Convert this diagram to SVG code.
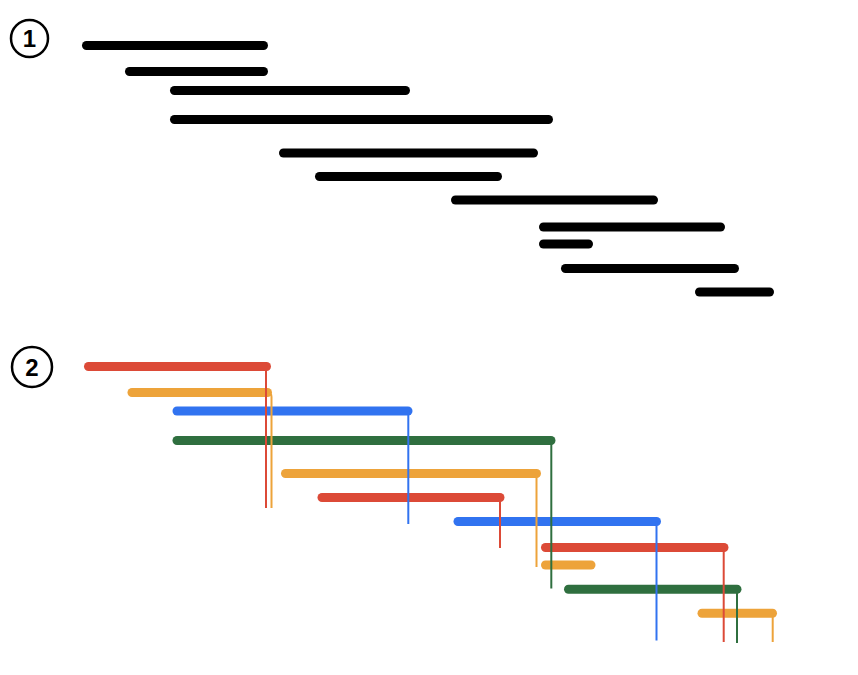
<svg xmlns="http://www.w3.org/2000/svg" width="858" height="675" viewBox="0 0 858 675">
<style>
.bar{stroke-width:9;stroke-linecap:round;fill:none}
.k{stroke:#000}
.r{stroke:#DC4A37}
.o{stroke:#EDA33A}
.b{stroke:#3173F0}
.g{stroke:#2F6F3F}
.v{stroke-width:2;fill:none}
.badge{fill:none;stroke:#000;stroke-width:2.5}
.num{font-family:"Liberation Sans",Arial,sans-serif;font-size:24px;font-weight:bold;fill:#000;text-anchor:middle}
</style>
<rect width="858" height="675" fill="#fff"/>
<g id="label1"><circle class="badge" cx="29.5" cy="38.5" r="18.5"/><text class="num" x="29.5" y="47">1</text></g>
<g id="label2"><circle class="badge" cx="32" cy="367" r="20"/><text class="num" x="32" y="375.5">2</text></g>
<g id="chart1">
<g id="k1"><line class="bar k" x1="86.5" y1="45.5" x2="263.5" y2="45.5"/></g>
<g id="k2"><line class="bar k" x1="129.5" y1="71.5" x2="263.5" y2="71.5"/></g>
<g id="k3"><line class="bar k" x1="174.5" y1="90.5" x2="405.5" y2="90.5"/></g>
<g id="k4"><line class="bar k" x1="174.5" y1="119.5" x2="548.5" y2="119.5"/></g>
<g id="k5"><line class="bar k" x1="283.5" y1="153" x2="533.5" y2="153"/></g>
<g id="k6"><line class="bar k" x1="319.5" y1="176.5" x2="497.5" y2="176.5"/></g>
<g id="k7"><line class="bar k" x1="455.5" y1="200" x2="653.5" y2="200"/></g>
<g id="k8"><line class="bar k" x1="543.5" y1="227" x2="720.5" y2="227"/></g>
<g id="k9"><line class="bar k" x1="543.5" y1="244" x2="588.5" y2="244"/></g>
<g id="k10"><line class="bar k" x1="565.5" y1="268.5" x2="734.5" y2="268.5"/></g>
<g id="k11"><line class="bar k" x1="699.5" y1="292" x2="769.5" y2="292"/></g>
</g>
<g id="chart2">
<g id="r1"><line class="bar r" x1="88.5" y1="366.5" x2="266.5" y2="366.5"/></g>
<g id="o1"><line class="bar o" x1="132" y1="392.5" x2="267.5" y2="392.5"/></g>
<g id="b1"><line class="bar b" x1="177" y1="411" x2="408" y2="411"/></g>
<g id="g1"><line class="bar g" x1="177" y1="440.5" x2="551" y2="440.5"/></g>
<g id="o2"><line class="bar o" x1="285.5" y1="473.5" x2="536.5" y2="473.5"/></g>
<g id="r2"><line class="bar r" x1="322" y1="497.5" x2="500" y2="497.5"/></g>
<g id="b2"><line class="bar b" x1="458" y1="521.5" x2="656.5" y2="521.5"/></g>
<g id="r3"><line class="bar r" x1="545.5" y1="547.5" x2="724" y2="547.5"/></g>
<g id="o3"><line class="bar o" x1="545.5" y1="565" x2="591" y2="565"/></g>
<g id="g2"><line class="bar g" x1="568.5" y1="589.3" x2="737" y2="589.3"/></g>
<g id="o4"><line class="bar o" x1="702" y1="613.3" x2="772.5" y2="613.3"/></g>
</g>
<g id="connectors">
<line class="v r" x1="266" y1="367" x2="266" y2="508"/>
<path class="v o" d="M267 392.5 Q271.5 392.5 271.5 397 V508"/>
<line class="v b" x1="408.3" y1="411" x2="408.3" y2="524"/>
<line class="v g" x1="551.3" y1="440.5" x2="551.3" y2="588.5"/>
<line class="v o" x1="536.5" y1="473.5" x2="536.5" y2="567"/>
<line class="v r" x1="500" y1="497.5" x2="500" y2="548"/>
<line class="v b" x1="656.5" y1="521.5" x2="656.5" y2="640.5"/>
<line class="v r" x1="723.7" y1="547.5" x2="723.7" y2="642"/>
<line class="v g" x1="737" y1="589.3" x2="737" y2="643"/>
<line class="v o" x1="772.7" y1="613.3" x2="772.7" y2="642"/>
</g>
</svg>
